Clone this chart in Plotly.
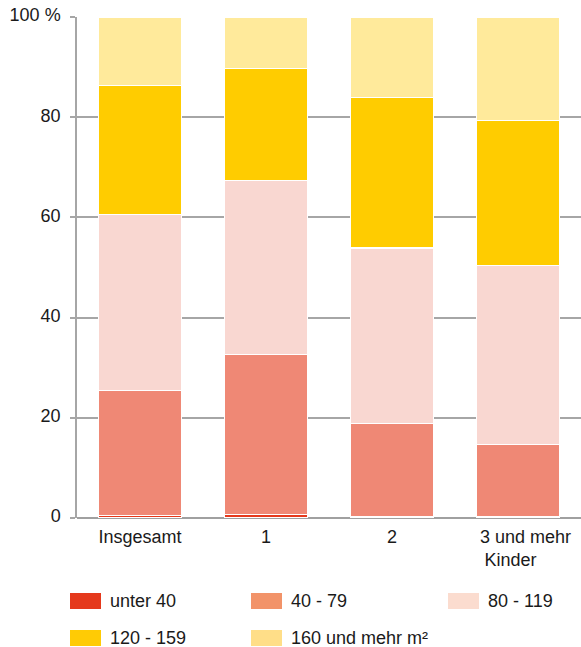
import plotly.graph_objects as go

# Wohnfläche von Haushalten nach Zahl der Kinder (Anteile in %)
categories = ["Insgesamt", "1", "2", "3 und mehr Kinder"]
category_labels = ["Insgesamt", "1", "2",
                   "\u00a0" * 3 + "3 und mehr<br>Kinder" + "\u00a0" * 3]
series_names = ["unter 40", "40 - 79", "80 - 119", "120 - 159", "160 und mehr m²"]
unter_40 = [0.5, 0.7, 0.3, 0.2]
von_40_79 = [25.0, 31.9, 18.5, 14.4]
von_80_119 = [35.1, 34.7, 35.1, 35.8]
von_120_159 = [25.8, 22.4, 30.1, 28.9]
ab_160 = [13.6, 10.3, 16.0, 20.7]
series_values = [unter_40, von_40_79, von_80_119, von_120_159, ab_160]

bar_colors = ["#e5391c", "#ef8875", "#f9d7d1", "#ffcc00", "#ffea9b"]
legend_colors = ["#e5391c", "#f29369", "#fbdccf", "#ffcb05", "#ffde88"]

y_ticks = [0, 20, 40, 60, 80, 100]
y_ticktext = ["0", "20", "40", "60", "80", "100 %"]

W, H = 581, 647
ML, MR, MT, MB = 77, 0, 17, 129
PW, PH = W - ML - MR, H - MT - MB

FONT = "Liberation Sans, Arial, sans-serif"
FS = 18
TXT = "#1a1a1a"

fig = go.Figure()
for name, vals, col in zip(series_names, series_values, bar_colors):
    fig.add_trace(go.Bar(
        x=categories, y=vals, name=name, showlegend=False,
        marker=dict(color=col, line=dict(color="white", width=1.2)),
        hovertemplate="%{x}: %{y} %<extra>" + name + "</extra>",
    ))


def px_x(p):
    return (p - ML) / PW


def px_y(p):
    return (H - MB - p) / PH


# legend drawn as swatches with labels, three columns
legend_pos = [(70, 601), (251, 601), (448, 601), (70, 638), (251, 638)]
shapes = []
annotations = []
for (lx, ly), name, col in zip(legend_pos, series_names, legend_colors):
    shapes.append(dict(
        type="rect", xref="paper", yref="paper",
        x0=px_x(lx), x1=px_x(lx + 31), y0=px_y(ly + 8), y1=px_y(ly - 8),
        fillcolor=col, line=dict(width=0),
    ))
    annotations.append(dict(
        xref="paper", yref="paper", x=px_x(lx + 39), y=px_y(ly),
        text=name, showarrow=False, xanchor="left", yanchor="middle",
        borderpad=0,
        font=dict(family=FONT, size=FS, color=TXT),
    ))

fig.update_layout(
    barmode="stack",
    bargap=0.34,
    width=W, height=H,
    margin=dict(l=ML, r=MR, t=MT, b=MB, pad=0),
    paper_bgcolor="white", plot_bgcolor="white",
    font=dict(family=FONT, size=FS, color=TXT),
    shapes=shapes,
    annotations=annotations,
    xaxis=dict(
        type="category", showgrid=False, showline=False,
        tickvals=categories, ticktext=category_labels,
        ticks="", tickfont=dict(family=FONT, size=FS, color=TXT),
        ticklabelstandoff=6,
        fixedrange=True,
    ),
    yaxis=dict(
        range=[0, 100], tickvals=y_ticks, ticktext=y_ticktext,
        showgrid=True, gridcolor="#a6a6a6", gridwidth=1.5,
        zeroline=True, zerolinecolor="#a0a0a0", zerolinewidth=2,
        showline=True, linecolor="#a6a6a6", linewidth=1.5,
        ticks="outside", ticklen=5, tickcolor="#a6a6a6", tickwidth=1.5,
        tickfont=dict(family=FONT, size=FS, color=TXT),
        ticklabelstandoff=6, ticklabelshift=-2,
        fixedrange=True,
    ),
)

fig.write_html("out.html")
